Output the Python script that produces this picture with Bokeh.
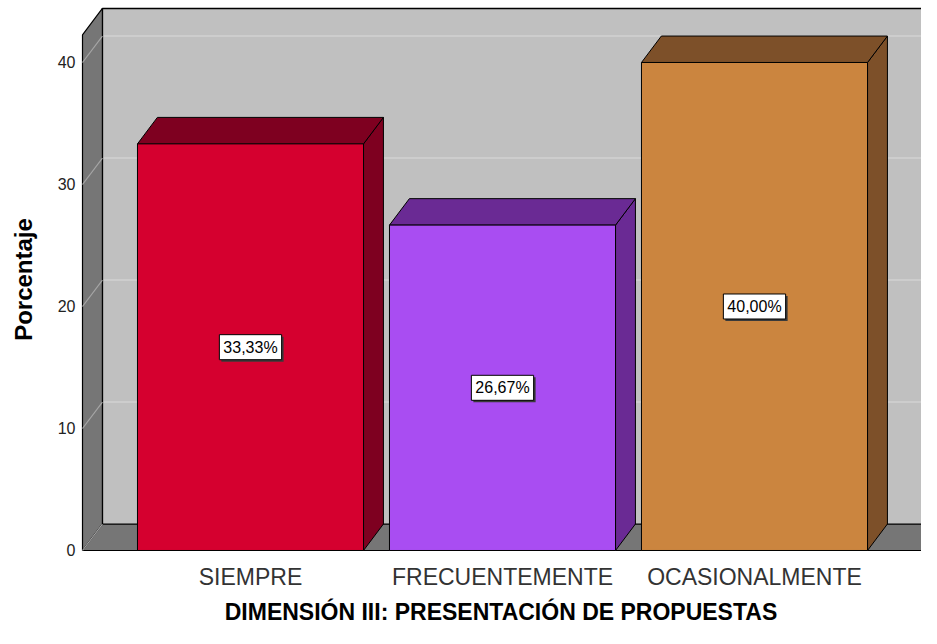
from bokeh.plotting import figure
from bokeh.models import Range1d, Label
from bokeh.embed import file_html
from bokeh.resources import INLINE

# ---- data ----
categories = ["SIEMPRE", "FRECUENTEMENTE", "OCASIONALMENTE"]
percentages = [33.33, 26.67, 40.00]
y_ticks = [0, 10, 20, 30, 40]
x_title = "DIMENSIÓN III: PRESENTACIÓN DE PROPUESTAS"
y_title = "Porcentaje"

# ---- styles ----
front_colors = ["#D5002F", "#A94DF2", "#CB853F"]
shade_colors = ["#7E0020", "#6A2A94", "#7D5029"]
WALL_BACK = "#C0C0C0"
WALL_SIDE = "#767676"
GRID_BACK = "#CDCDCD"
GRID_SIDE = "#A6A6A6"

DX = 0.079      # 3D depth offset (x units)
DY = 2.17       # 3D depth offset (y units)
BAR_W = 0.897
X_WALL = 1 / 3
X_START = 0.3254
X_END = 3.6627
Y_START = -0.164
Y_END = 44.59
Y_WALL_TOP = 44.43
FLOOR_R = 3.6706

positions = list(range(1, len(categories) + 1))

p = figure(width=921, height=628, output_backend="svg", toolbar_location=None,
           x_range=Range1d(X_START, X_END), y_range=Range1d(Y_START, Y_END),
           min_border_left=80, min_border_right=0, min_border_top=6,
           min_border_bottom=76)
p.outline_line_color = None
p.background_fill_color = "white"
p.border_fill_color = "white"
p.xgrid.visible = False
p.ygrid.visible = False

# back wall
p.quad(left=X_WALL + DX, right=X_END + 1, bottom=DY, top=Y_WALL_TOP,
       fill_color=WALL_BACK, line_color=None)
# back wall grid lines
gt = y_ticks[1:]
p.segment(x0=[X_WALL + DX] * len(gt), y0=[t + DY for t in gt],
          x1=[X_END + 1] * len(gt), y1=[t + DY for t in gt],
          line_color=GRID_BACK, line_width=2)
# back wall edges
p.line([X_WALL + DX, X_WALL + DX, X_END + 1], [DY, Y_WALL_TOP, Y_WALL_TOP],
       line_color="black", line_width=1.5)

# side wall
p.patch([X_WALL, X_WALL + DX, X_WALL + DX, X_WALL],
        [0, DY, Y_WALL_TOP, Y_WALL_TOP - DY],
        fill_color=WALL_SIDE, line_color="black", line_width=1.2)
# floor
p.patch([X_WALL, FLOOR_R, FLOOR_R + DX, X_WALL + DX],
        [0, 0, DY, DY],
        fill_color=WALL_SIDE, line_color="black", line_width=1.2)
# side wall grid lines
p.segment(x0=[X_WALL] * len(y_ticks), y0=y_ticks,
          x1=[X_WALL + DX] * len(y_ticks), y1=[t + DY for t in y_ticks],
          line_color=GRID_SIDE, line_width=1.2)

# bars
lefts = [x - BAR_W / 2 for x in positions]
rights = [x + BAR_W / 2 for x in positions]
side_xs = [[r, r + DX, r + DX, r] for r in rights]
side_ys = [[0, DY, v + DY, v] for v in percentages]
top_xs = [[l, l + DX, r + DX, r] for l, r in zip(lefts, rights)]
top_ys = [[v, v + DY, v + DY, v] for v in percentages]
p.patches(side_xs, side_ys, fill_color=shade_colors, line_color="black", line_width=1)
p.patches(top_xs, top_ys, fill_color=shade_colors, line_color="black", line_width=1)
p.quad(left=lefts, right=rights, bottom=0, top=percentages,
       fill_color=front_colors, line_color="black", line_width=1)

# value labels
labels = [f"{v:.2f}".replace(".", ",") + "%" for v in percentages]
for pos, v, t in zip(positions, percentages, labels):
    p.add_layout(Label(x=pos, y=v / 2, text=t, text_align="center",
                       text_baseline="middle", text_font="Liberation Sans",
                       text_font_size="16px", text_color="#3a3a3a",
                       background_fill_color="#3a3a3a", x_offset=2, y_offset=-2,
                       padding=4))
    p.add_layout(Label(x=pos, y=v / 2, text=t, text_align="center",
                       text_baseline="middle", text_font="Liberation Sans",
                       text_font_size="16px", text_color="black",
                       background_fill_color="white", border_line_color="black",
                       border_line_width=1, padding=4))

# axes
p.yaxis.ticker = y_ticks
p.yaxis.axis_line_color = None
p.yaxis.major_tick_line_color = None
p.yaxis.minor_tick_line_color = None
p.yaxis.major_tick_out = 0
p.yaxis.major_tick_in = 0
p.yaxis.minor_tick_out = 0
p.yaxis.major_label_standoff = 5
p.yaxis.major_label_text_font = "Liberation Sans"
p.yaxis.major_label_text_font_size = "16px"
p.yaxis.major_label_text_color = "#222222"
p.yaxis.axis_label = y_title
p.yaxis.axis_label_text_font = "Liberation Sans"
p.yaxis.axis_label_text_font_size = "24px"
p.yaxis.axis_label_text_font_style = "bold"
p.yaxis.axis_label_text_color = "black"
p.yaxis.axis_label_standoff = 18

p.xaxis.ticker = positions
p.xaxis.major_label_overrides = {pos: c for pos, c in zip(positions, categories)}
p.xaxis.axis_line_color = None
p.xaxis.major_tick_line_color = None
p.xaxis.minor_tick_line_color = None
p.xaxis.major_tick_out = 0
p.xaxis.major_tick_in = 0
p.xaxis.minor_tick_out = 0
p.xaxis.major_label_standoff = 11
p.xaxis.major_label_text_font = "Liberation Sans"
p.xaxis.major_label_text_font_size = "23px"
p.xaxis.major_label_text_color = "#333333"
p.xaxis.axis_label = x_title
p.xaxis.axis_label_text_font = "Liberation Sans"
p.xaxis.axis_label_text_font_size = "23px"
p.xaxis.axis_label_text_font_style = "bold"
p.xaxis.axis_label_text_color = "black"
p.xaxis.axis_label_standoff = 6

open("out.html", "w").write(file_html(p, INLINE))
